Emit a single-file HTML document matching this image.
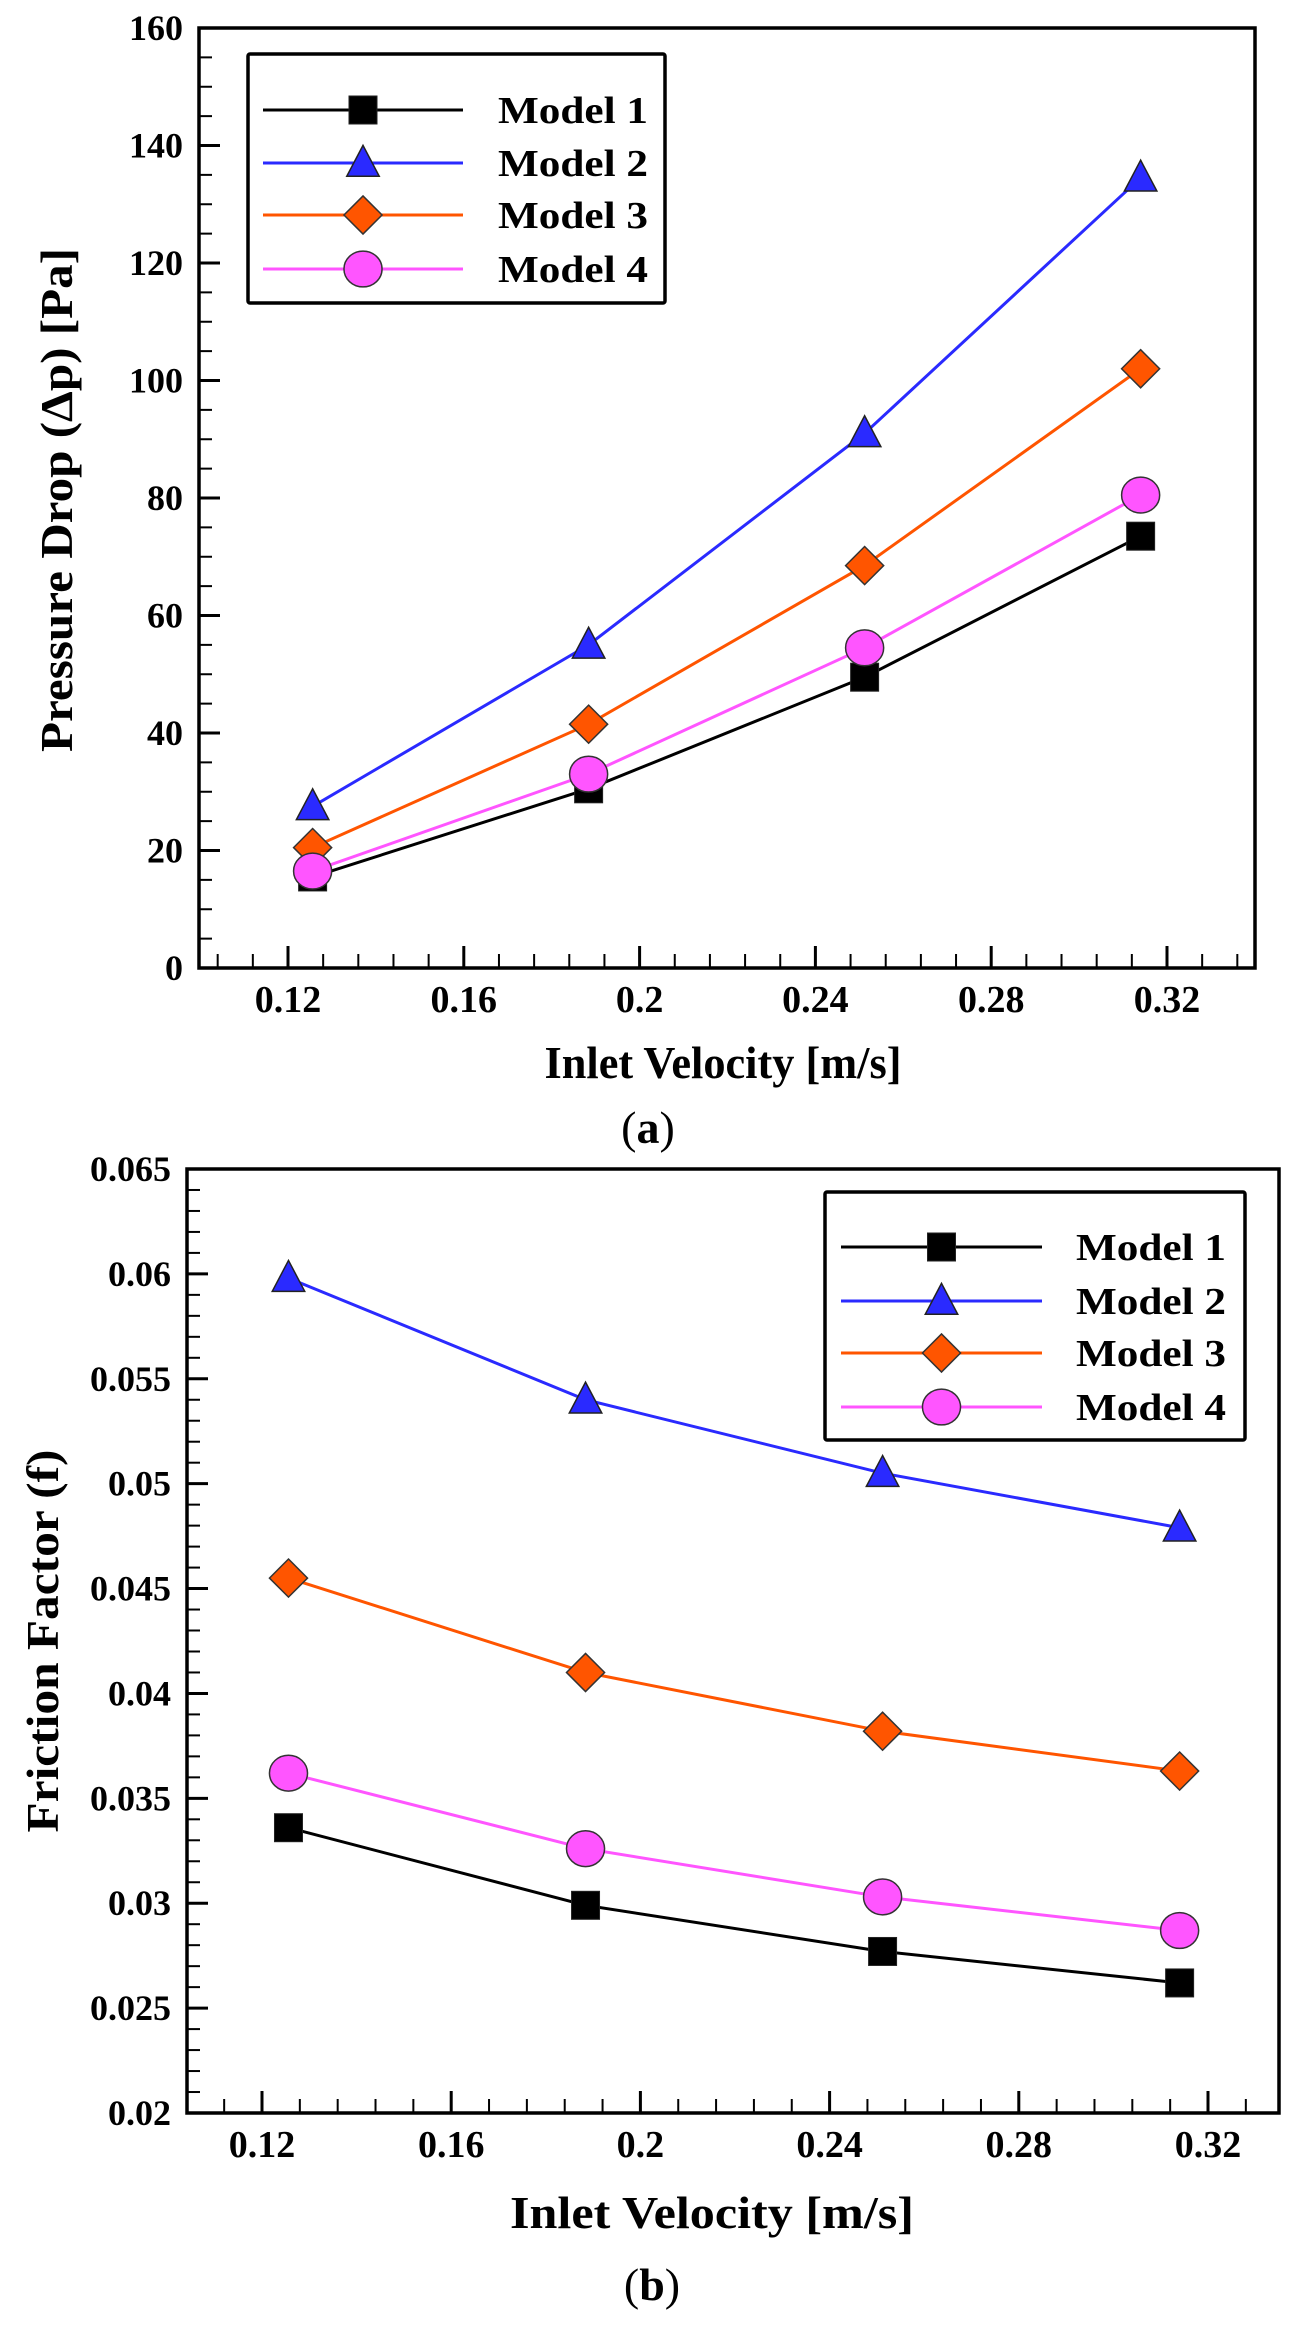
<!DOCTYPE html>
<html><head><meta charset="utf-8"><style>
html,body{margin:0;padding:0;background:#fff;}
svg{display:block;}
text{font-family:"Liberation Serif",serif;font-weight:bold;fill:#000;}
</style></head>
<body>
<svg id="fig" width="1294" height="2325" viewBox="0 0 1294 2325" xmlns="http://www.w3.org/2000/svg"></svg>
<script>
// ---------- data ----------
const velocities = [0.1256, 0.1884, 0.2512, 0.314];
const seriesNames = ["Model 1", "Model 2", "Model 3", "Model 4"];
const pressureM1 = [15.5, 30.5, 49.5, 73.5];
const pressureM2 = [27.5, 55, 91, 134.5];
const pressureM3 = [20.5, 41.5, 68.5, 102];
const pressureM4 = [16.5, 33, 54.5, 80.5];
const frictionM1 = [0.0336, 0.0299, 0.0277, 0.0262];
const frictionM2 = [0.0598, 0.0540, 0.0505, 0.0479];
const frictionM3 = [0.0455, 0.0410, 0.0382, 0.0363];
const frictionM4 = [0.0362, 0.0326, 0.0303, 0.0287];
const xTickLabels = ["0.12", "0.16", "0.2", "0.24", "0.28", "0.32"];
const xTickValues = [0.12, 0.16, 0.2, 0.24, 0.28, 0.32];
const pTickValues = [0, 20, 40, 60, 80, 100, 120, 140, 160];
const fTickValues = [0.02, 0.025, 0.03, 0.035, 0.04, 0.045, 0.05, 0.055, 0.06, 0.065];
const fTickLabels = ["0.02","0.025","0.03","0.035","0.04","0.045","0.05","0.055","0.06","0.065"];

const colors = ["#000000", "#2a2aff", "#ff5500", "#ff55ff"];
const markers = ["square", "triangle", "diamond", "circle"];
const NS = "http://www.w3.org/2000/svg";
const svg = document.getElementById("fig");

function el(tag, attrs, parent) {
  const e = document.createElementNS(NS, tag);
  for (const k in attrs) e.setAttribute(k, attrs[k]);
  (parent || svg).appendChild(e);
  return e;
}

function marker(g, type, cx, cy, color, s) {
  let m;
  if (type === "square") {
    m = el("rect", {x: cx - s*0.5, y: cy - s*0.5, width: s, height: s, fill: color, stroke: "#222", "stroke-width": 1}, g);
  } else if (type === "triangle") {
    const h = s*1.05;
    m = el("polygon", {points: `${cx},${cy - h*0.6} ${cx - s*0.58},${cy + h*0.45} ${cx + s*0.58},${cy + h*0.45}`, fill: color, stroke: "#222", "stroke-width": 1.5}, g);
  } else if (type === "diamond") {
    const r = s*0.68;
    m = el("polygon", {points: `${cx},${cy - r} ${cx + r},${cy} ${cx},${cy + r} ${cx - r},${cy}`, fill: color, stroke: "#333", "stroke-width": 1.5}, g);
  } else {
    m = el("ellipse", {cx: cx, cy: cy, rx: s*0.68, ry: s*0.64, fill: color, stroke: "#333", "stroke-width": 1.5}, g);
  }
  return m;
}

function drawChart(cfg) {
  const g = el("g", {});
  
  
  const X = v => cfg.left + (v - cfg.xmin) / (cfg.xmax - cfg.xmin) * (cfg.right - cfg.left);
  const Y = v => cfg.bottom - (v - cfg.ymin) / (cfg.ymax - cfg.ymin) * (cfg.bottom - cfg.top);

  for (let v = cfg.xminorStart; v <= cfg.xmax + 1e-9; v += cfg.xminor) {
    const x = X(v);
    if (x < cfg.left + 2 || x > cfg.right - 2) continue;
    el("line", {x1: x, x2: x, y1: cfg.bottom, y2: cfg.bottom - 14, stroke: "#000", "stroke-width": 2}, g);
  }
  xTickValues.forEach((v, i) => {
    const x = X(v);
    const t = el("line", {x1: x, x2: x, y1: cfg.bottom, y2: cfg.bottom - 22, stroke: "#000", "stroke-width": 3}, g);
    
    
    const lab = el("text", {x: x, y: cfg.bottom + 44, "text-anchor": "middle", "font-size": 38}, g);
    lab.textContent = xTickLabels[i];
    
    
  });
  for (let v = cfg.ymin; v <= cfg.ymax + 1e-9; v += cfg.yminor) {
    const y = Y(v);
    el("line", {x1: cfg.left, x2: cfg.left + 13, y1: y, y2: y, stroke: "#000", "stroke-width": 2}, g);
  }
  cfg.yTicks.forEach((v, i) => {
    const y = Y(v);
    const t = el("line", {x1: cfg.left, x2: cfg.left + 21, y1: y, y2: y, stroke: "#000", "stroke-width": 3}, g);
    
    
    const lab = el("text", {x: cfg.left - 16, y: y + 12, "text-anchor": "end", "font-size": 36}, g);
    lab.textContent = cfg.yLabels[i];
    
    
  });
  const fr = el("rect", {x: cfg.left, y: cfg.top, width: cfg.right - cfg.left, height: cfg.bottom - cfg.top, fill: "none", stroke: "#000", "stroke-width": 3.5}, g);
  
  

  cfg.series.forEach((vals, si) => {
    const sg = el("g", {}, g);
    
    
    const pts = vals.map((v, i) => `${X(velocities[i])},${Y(v)}`).join(" ");
    const pl = el("polyline", {points: pts, fill: "none", stroke: colors[si], "stroke-width": 3}, sg);
    
    
    vals.forEach((v, i) => {
      const m = marker(sg, markers[si], X(velocities[i]), Y(v), colors[si], 28);
      
      
    });
  });

  const L = cfg.legend;
  const lg = el("g", {}, g);
  
  
  el("rect", {x: L.x, y: L.y, width: L.w, height: L.h, fill: "#fff", stroke: "#000", "stroke-width": 3.5, rx: 2}, lg);
  seriesNames.forEach((n, si) => {
    const eg = el("g", {}, lg);
    
    
    const y = L.rows[si];
    el("line", {x1: L.lx1, x2: L.lx2, y1: y, y2: y, stroke: colors[si], "stroke-width": 3}, eg);
    marker(eg, markers[si], (L.lx1 + L.lx2) / 2, y, colors[si], 28);
    const t = el("text", {x: L.tx, y: y + 13, "font-size": 38, textLength: 150, lengthAdjust: "spacingAndGlyphs"}, eg);
    t.textContent = n;
  });

  const xt = el("text", {x: cfg.xtitle.x, y: cfg.xtitle.y, "text-anchor": "middle", "font-size": 46, textLength: cfg.xtitle.w, lengthAdjust: "spacingAndGlyphs"}, g);
  xt.textContent = "Inlet Velocity [m/s]";
  
  
  const yt = el("text", {x: 0, y: 0, "text-anchor": "middle", "font-size": 46, textLength: cfg.ytitle.w, lengthAdjust: "spacingAndGlyphs", transform: `translate(${cfg.ytitle.x},${cfg.ytitle.y}) rotate(-90)`}, g);
  yt.textContent = cfg.ytitle.text;
  
  
  const cap = el("text", {x: cfg.cap.x, y: cfg.cap.y, "text-anchor": "middle", "font-size": 46, style: "font-weight:normal"}, g);
  cap.innerHTML = '(<tspan style="font-weight:bold">' + cfg.cap.letter + '</tspan>)';
  
  
}

drawChart({
  name: "pressure-drop-chart",
  left: 199, right: 1255, top: 28, bottom: 968,
  xmin: 0.12 - 89/175.8*0.04, xmax: 0.32 + 88/175.8*0.04,
  xminorStart: 0.104, xminor: 0.008,
  ymin: 0, ymax: 160, yminor: 5,
  yTicks: pTickValues, yLabels: pTickValues.map(String),
  series: [pressureM1, pressureM2, pressureM3, pressureM4],
  legend: {x: 248, y: 54, w: 417, h: 249, rows: [110, 163, 215, 269], lx1: 263, lx2: 463, tx: 498},
  xtitle: {x: 723, y: 1078, w: 357},
  ytitle: {x: 72, y: 500, w: 504, text: "Pressure Drop (\u0394p) [Pa]"},
  cap: {x: 648, y: 1143, letter: "a"}
});

drawChart({
  name: "friction-factor-chart",
  left: 187, right: 1279, top: 1169, bottom: 2113,
  xmin: 0.12 - 75/189.2*0.04, xmax: 0.32 + 71/189.2*0.04,
  xminorStart: 0.104, xminor: 0.008,
  ymin: 0.02, ymax: 0.065, yminor: 0.001,
  yTicks: fTickValues, yLabels: fTickLabels,
  series: [frictionM1, frictionM2, frictionM3, frictionM4],
  legend: {x: 825, y: 1192, w: 420, h: 248, rows: [1247, 1301, 1353, 1407], lx1: 841, lx2: 1042, tx: 1076},
  xtitle: {x: 712, y: 2228, w: 404},
  ytitle: {x: 58, y: 1641, w: 383, text: "Friction Factor (f)"},
  cap: {x: 652, y: 2300, letter: "b"}
});
</script>
</body></html>
